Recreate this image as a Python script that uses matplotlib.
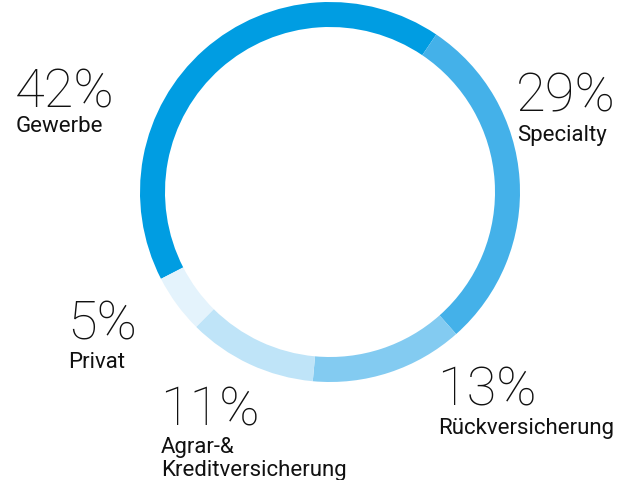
import matplotlib.pyplot as plt

segmente = ["Gewerbe", "Specialty", "Rückversicherung", "Agrar-&\nKreditversicherung", "Privat"]
anteile = [42, 29, 13, 11, 5]
farben = ["#009de2", "#44b1e9", "#83cbf1", "#bfe4f8", "#e4f3fc"]

fig = plt.figure(figsize=(6.29, 4.8), dpi=100)
ax = fig.add_axes([0, 0, 1, 1])

# Ring im Pixelraster (y nach oben)
ax.pie(anteile, colors=farben, startangle=207.2, counterclock=False,
       center=(330, 288), radius=190, frame=True,
       wedgeprops=dict(width=25, linewidth=0))
ax.set_xlim(0, 629)
ax.set_ylim(0, 480)
ax.set_aspect("equal")
ax.axis("off")

schrift = "Roboto"
# Beschriftungen: (x links, Grundlinie Zahl, Grundlinie letzte Textzeile)
positionen = [(15, 107, 132), (516, 111, 141), (437, 406, 434), (160, 426, 476), (67, 340, 368)]

for name, wert, (x, yz, yt) in zip(segmente, anteile, positionen):
    ax.text(x, 480 - yz, f"{wert}%", fontsize=39, family=schrift, fontweight="light",
            va="baseline", ha="left", color="#111111")
    ax.text(x + 1, 480 - yt, name, fontsize=16, family=schrift, va="baseline",
            ha="left", color="#111111", linespacing=1.12)

fig.savefig("out.png", dpi=100)
